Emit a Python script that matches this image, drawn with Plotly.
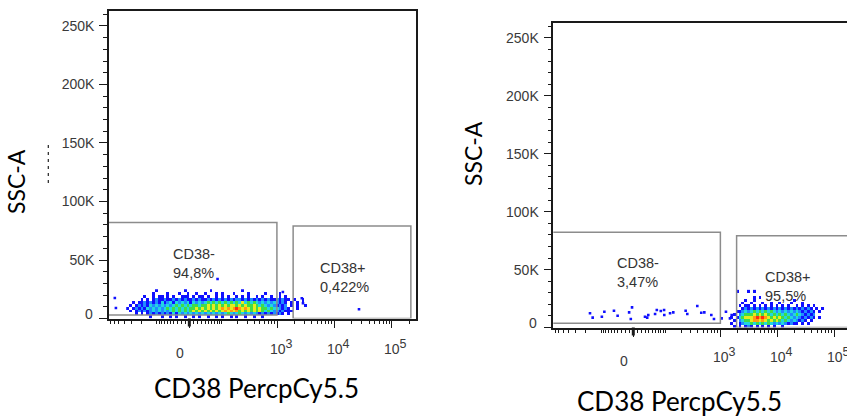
import math
import plotly.graph_objects as go

W, H = 847, 417

# ---------------- data ----------------
x_title = "CD38 PercpCy5.5"
y_title = "SSC-A"
gate_names = ["CD38-", "CD38+"]
panel1_pct = ["94,8%", "0,422%"]
panel2_pct = ["3,47%", "95,5%"]

# gates: (CD38 min, CD38 max), (SSC-A min, SSC-A max)
panel1_gate_x = [(-800, 990), (1900, 214000)]
panel1_gate_y = [(3000, 82000), (0, 79000)]
panel2_gate_x = [(-800, 1000), (1930, 400000)]
panel2_gate_y = [(3600, 82200), (0, 79300)]

y_major = [0, 50000, 100000, 150000, 200000, 250000]
y_major_text = ["", "50K", "100K", "150K", "200K", "250K"]
x_major = [0, 1000, 10000, 100000]
x_major_text = ["0", "10<sup><span style='font-size:12.5px'>3</span></sup>",
                "10<sup><span style='font-size:12.5px'>4</span></sup>",
                "10<sup><span style='font-size:12.5px'>5</span></sup>"]
x_minor = ([-700, -600, -500, -400, -300, -200, -100]
           + [-90, -80, -70, -60, -50, -40, -30, -20, -10]
           + [10, 20, 30, 40, 50, 60, 70, 80, 90]
           + [100, 200, 300, 400, 500, 600, 700, 800, 900]
           + [2000, 3000, 4000, 5000, 6000, 7000, 8000, 9000]
           + [20000, 30000, 40000, 50000, 60000, 70000, 80000, 90000]
           + [200000])

# density maps (pseudocolour level per bin, '.' = no events), top row first
# bins: 0.05 logicle decades wide, 2500 SSC-A tall
panel1_bin_x0 = -1.10
panel2_bin_x0 = 1.70
bin_dx = 0.05
bin_dy = 2500
panel1_density = [
    "..........1.........1........1..........1.......................",
    ".........1....1...1..1..1..1...1.1...1....1.....1....1..........",
    "......1..1.11.1.1..111.1.11.1..1.1.1..1.1.1..1.1..1..1.1........",
    ".....1.1.121121121212112121121212121212212121212121121211.1..1..",
    "..1.1121212131231323231323234343434343435343432323232121.1.1.1..",
    ".1.12121323232323434343443445454545455454544543432321212.1.1..1.",
    "1.1212132323234343434344545454545656567656545454434332121..1....",
    ".1.1212123232323434343454545454545656564545454543432212111......",
    "...1.1.121212121313232323232323232343234323232121212121.1.......",
    "........1...1..1.1..1..1.1..1..1.1..1.1..1..1..1................",
]
panel2_density = [
    "..1...1.1........................",
    ".................................",
    "........1.1......................",
    ".....1..1.............1..........",
    "....1..1...1..1..1...1...1.......",
    "...1.11.1.1.1.1.1.1.1..1.1.1.1...",
    "....1212121212121212121212121.1.1",
    "..1123234343434323232323212121.1.",
    ".1.234445454543434343234321212...",
    "1.1345556767654545434323212121.1.",
    ".1.234456656545454343232121.1....",
    "1..123343434343232321211.1.1.....",
    ".1.1.121.1.1.1.1..1..............",
]

# isolated events (CD38 intensity, SSC-A)
panel1_sparse_x = [-585, -560, 82, 1257, 2690, 2820, 26700]
panel1_sparse_y = [17500, 9000, 33700, 22600, 17300, 13000, 7900]
panel2_sparse_x = [-165, -147, -97, -86, -51, -40, -10, -6, -3, 29, 35, 38, 59, 65, 80, 94,
                   95, 124, 143, 242, 259, 391, 460, 521, 692, 771, 1053, 1254, 1474, 1580]
panel2_sparse_y = [12300, 8500, 9300, 13600, 14500, 10200, 13100, 7300, 17400, 9300, 8500,
                   10800, 11700, 15100, 14200, 15100, 10800, 12300, 13100, 14500, 11700,
                   18600, 12800, 13100, 10800, 7300, 7900, 13600, 7900, 10800]

level_colors = ["#1010ff", "#1f8cff", "#22d6e0", "#3fdc48", "#e6ec1e", "#ff9a12", "#ff2c10"]

# ---------------- scale ----------------
C = 29.5


def logicle(v):
    """biexponential display transform (decades)"""
    return math.asinh(v / (2 * C)) / math.log(10)


P1 = dict(dx=(109 / W, 416 / W), dy=(1 - 318.5 / H, 1 - 11 / H), xr=(-1.40, 3.95), yr=(0, 262800))
P2 = dict(dx=(553.3 / W, 1.0), dy=(1 - 327.5 / H, 1 - 22.7 / H), xr=(-1.406, 3.756), yr=(0, 263200))


def paper_x(p, d):
    return p["dx"][0] + (d - p["xr"][0]) / (p["xr"][1] - p["xr"][0]) * (p["dx"][1] - p["dx"][0])


def px(xp, yp):
    return xp / W, 1 - yp / H


colorscale = []
for k, c in enumerate(level_colors):
    colorscale.append([k / len(level_colors), c])
    colorscale.append([(k + 1) / len(level_colors), c])


def density_trace(rows, x0, xa, ya):
    n = max(len(r) for r in rows)
    z = []
    for r in reversed(rows):
        r = r.ljust(n, ".")
        z.append([None if ch == "." else int(ch) for ch in r])
    xc = [x0 + bin_dx * (i + 0.5) for i in range(n)]
    yc = [bin_dy * (k + 0.5) for k in range(len(rows))]
    return go.Heatmap(z=z, x=xc, y=yc, colorscale=colorscale, zmin=0.5, zmax=7.5,
                      showscale=False, hoverinfo="skip", xaxis=xa, yaxis=ya)


def sparse_trace(xs, ys, xa, ya):
    return go.Scatter(x=[logicle(v) for v in xs], y=ys, mode="markers",
                      marker=dict(symbol="square", size=2.6, color=level_colors[0], line=dict(width=0)),
                      hoverinfo="skip", xaxis=xa, yaxis=ya)


fig = go.Figure()
fig.add_trace(density_trace(panel1_density, panel1_bin_x0, "x", "y"))
fig.add_trace(sparse_trace(panel1_sparse_x, panel1_sparse_y, "x", "y"))
fig.add_trace(density_trace(panel2_density, panel2_bin_x0, "x2", "y2"))
fig.add_trace(sparse_trace(panel2_sparse_x, panel2_sparse_y, "x2", "y2"))

LINE = "#1a1a1a"
TICKFONT = dict(family="Liberation Sans", size=14, color="#3a3a3a")


def xaxis_cfg(p, anchor):
    return dict(domain=list(p["dx"]), range=list(p["xr"]), anchor=anchor,
                showline=True, linecolor=LINE, linewidth=1.5, mirror=True,
                showgrid=False, zeroline=False,
                tickmode="array", tickvals=[logicle(v) for v in x_major],
                ticks="outside", ticklen=8, tickwidth=1.2, tickcolor=LINE,
                showticklabels=False,
                minor=dict(tickmode="array", tickvals=[logicle(v) for v in x_minor],
                           ticks="outside", ticklen=4, tickwidth=1, tickcolor=LINE, showgrid=False))


def yaxis_cfg(p, anchor, mirror):
    return dict(domain=list(p["dy"]), range=list(p["yr"]), anchor=anchor,
                showline=True, linecolor=LINE, linewidth=1.5, mirror=mirror,
                showgrid=False, zeroline=False,
                tickmode="array", tickvals=y_major, ticktext=y_major_text,
                ticks="outside", ticklen=8, tickwidth=1.2, tickcolor=LINE,
                tickfont=TICKFONT, ticklabelstandoff=2,
                minor=dict(dtick=10000, tick0=0, ticks="outside", ticklen=4, tickwidth=1,
                           tickcolor=LINE, showgrid=False))


fig.update_layout(
    width=W, height=H, margin=dict(l=0, r=0, t=0, b=0),
    paper_bgcolor="white", plot_bgcolor="white", showlegend=False,
    xaxis=xaxis_cfg(P1, "y"), yaxis=yaxis_cfg(P1, "x", True),
    xaxis2=xaxis_cfg(P2, "y2"), yaxis2=yaxis_cfg(P2, "x2", False),
)

shapes = []
annotations = []
GATE = dict(color="#8c8c8c", width=1.5)
for (gx, gy, xa, ya) in [(panel1_gate_x, panel1_gate_y, "x", "y"), (panel2_gate_x, panel2_gate_y, "x2", "y2")]:
    for (x0, x1), (y0, y1) in zip(gx, gy):
        shapes.append(dict(type="rect", xref=xa, yref=ya, x0=logicle(x0), x1=logicle(x1),
                           y0=y0, y1=y1, line=GATE, fillcolor="rgba(0,0,0,0)", layer="above"))

# thick zero tick on the x axes
for p, ybase in [(P1, 318.5), (P2, 327.5)]:
    xz = paper_x(p, logicle(0))
    shapes.append(dict(type="line", xref="paper", yref="paper", x0=xz, x1=xz,
                       y0=1 - ybase / H, y1=1 - (ybase + 8) / H, line=dict(color=LINE, width=3)))

# stray dashed mark next to the left axis title
shapes.append(dict(type="line", xref="paper", yref="paper", x0=48.3 / W, x1=48.3 / W,
                   y0=1 - 145 / H, y1=1 - 184 / H, line=dict(color="#222", width=1.2, dash="3px,4px")))

LABELFONT = dict(family="Liberation Sans", size=14.5, color="#333")


def ann_px(text, xp, yp, font, xanchor="center", yanchor="middle", angle=0, align="center"):
    x, y = px(xp, yp)
    return dict(text=text, x=x, y=y, xref="paper", yref="paper", xanchor=xanchor,
                yanchor=yanchor, showarrow=False, textangle=angle, font=font, align=align)


# gate labels
gate_label_pos = [[(171, 263), (318, 277.5)], [(615, 272), (763, 286.5)]]
for pcts, poss in zip([panel1_pct, panel2_pct], gate_label_pos):
    for name, pct, (xp, yp) in zip(gate_names, pcts, poss):
        annotations.append(ann_px(f"{name}<br>{pct}", xp, yp, LABELFONT, xanchor="left", align="left"))

# x tick labels
for xa, ylab0, ylabp in [("x", 352.5, 347.0), ("x2", 360.5, 354.5)]:
    for v, t in zip(x_major, x_major_text):
        yp = ylab0 if v == 0 else ylabp
        annotations.append(dict(text=t, x=logicle(v), y=1 - yp / H, xref=xa, yref="paper",
                                xanchor="center", yanchor="middle", showarrow=False,
                                xshift=-9 if v == 0 else 4, font=TICKFONT))

# y "0" labels
annotations.append(ann_px("0", 95, 313.5, TICKFONT, xanchor="right"))
annotations.append(ann_px("0", 539, 322.5, TICKFONT, xanchor="right"))

TITLEFONT = dict(family="Lato", size=26, color="black")
YTITLEFONT = dict(family="Lato", size=23, color="black")
annotations.append(ann_px(y_title, 16, 182, YTITLEFONT, angle=-90))
annotations.append(ann_px(y_title, 473, 153, YTITLEFONT, angle=-90))
annotations.append(ann_px(x_title, 256, 388, TITLEFONT))
annotations.append(ann_px(x_title, 679, 401, TITLEFONT))

fig.update_layout(shapes=shapes, annotations=annotations)
fig.write_html("out.html", config={"displayModeBar": False},
               post_script="document.body.style.margin='0';document.body.style.overflow='hidden';")
